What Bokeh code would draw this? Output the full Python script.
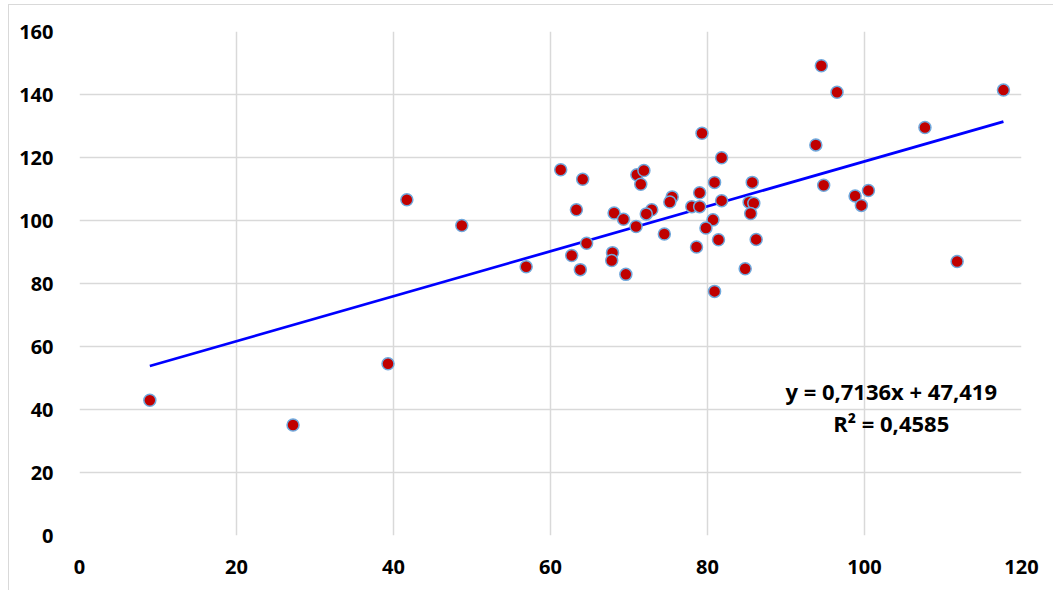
from bokeh.plotting import figure
from bokeh.models import Label, FixedTicker, Range1d
from bokeh.embed import file_html
from bokeh.resources import INLINE

x_vals = [8.96, 27.2, 39.3, 41.7, 48.7, 56.9,
          94.5, 96.5, 117.7, 107.7, 93.8, 94.8, 98.8, 100.5, 99.6, 111.8,
          79.3, 81.8, 61.3, 64.1, 71.0, 71.9, 71.5, 80.9, 85.7, 79.0,
          75.5, 75.2, 81.8, 85.3, 85.9, 85.5, 78.0, 79.0, 63.3, 72.9,
          72.2, 68.1, 69.3, 80.7, 79.8, 70.9, 64.6, 74.5, 81.4, 86.2,
          78.6, 62.7, 67.9, 67.8, 63.8, 69.6, 84.8, 80.9]
y_vals = [42.95, 35.1, 54.5, 106.6, 98.4, 85.3,
          149.1, 140.7, 141.4, 129.5, 124.0, 111.2, 107.8, 109.5, 104.8, 87.0,
          127.7, 119.9, 116.1, 113.1, 114.5, 115.9, 111.5, 112.1, 112.1, 108.8,
          107.5, 105.9, 106.3, 105.8, 105.5, 102.2, 104.4, 104.4, 103.4, 103.4,
          102.1, 102.4, 100.4, 100.2, 97.6, 98.1, 92.8, 95.7, 93.9, 94.0,
          91.6, 88.9, 89.8, 87.3, 84.4, 82.9, 84.7, 77.5]

slope = 0.7136
intercept = 47.419
r2 = 0.4585
x_ticks = [0, 20, 40, 60, 80, 100, 120]
y_ticks = [0, 20, 40, 60, 80, 100, 120, 140, 160]

FONT = "Open Sans"

p = figure(frame_width=942, frame_height=504, output_backend="svg",
           toolbar_location=None, x_range=Range1d(0, 120), y_range=Range1d(0, 160),
           min_border_left=70, min_border_top=26, min_border_right=40, min_border_bottom=60)
p.margin = (4, 0, 0, 8)
p.styles = {"border": "1px solid #D9D9D9"}
p.outline_line_color = None
p.background_fill_color = "white"
p.border_fill_color = "white"

for ax in (p.xaxis[0], p.yaxis[0]):
    ax.axis_line_color = None
    ax.major_tick_line_color = None
    ax.minor_tick_line_color = None
    ax.major_label_text_font = FONT
    ax.major_label_text_font_style = "bold"
    ax.major_label_text_font_size = "20px"
    ax.major_label_text_color = "black"
p.xaxis.ticker = FixedTicker(ticks=x_ticks)
p.yaxis.ticker = FixedTicker(ticks=y_ticks)
p.xaxis.major_label_standoff = 18
p.yaxis.major_label_standoff = 20
p.xgrid.ticker = FixedTicker(ticks=x_ticks)
p.ygrid.ticker = FixedTicker(ticks=y_ticks)
p.xgrid.grid_line_color = "#D9D9D9"
p.ygrid.grid_line_color = "#D9D9D9"
p.xgrid.grid_line_width = 1.5
p.ygrid.grid_line_width = 1.5

xmin, xmax = min(x_vals), max(x_vals)
p.line([xmin, xmax], [slope * xmin + intercept, slope * xmax + intercept],
       line_color="#0000FF", line_width=2.75)

p.scatter(x_vals, y_vals, size=12, fill_color="#C00000", line_color="#6FA8DC", line_width=1.5)

eq = "y = " + f"{slope:.4f}".replace(".", ",") + "x + " + f"{intercept:.3f}".replace(".", ",")
r2txt = "R² = " + f"{r2:.4f}".replace(".", ",")
p.add_layout(Label(x=103.4, y=46.0, text=eq, text_align="center", text_baseline="middle",
                   text_font=FONT, text_font_style="bold", text_font_size="22px", text_color="black"))
p.add_layout(Label(x=103.4, y=35.7, text=r2txt, text_align="center", text_baseline="middle",
                   text_font=FONT, text_font_style="bold", text_font_size="22px", text_color="black"))

open("out.html", "w").write(file_html(p, INLINE))
